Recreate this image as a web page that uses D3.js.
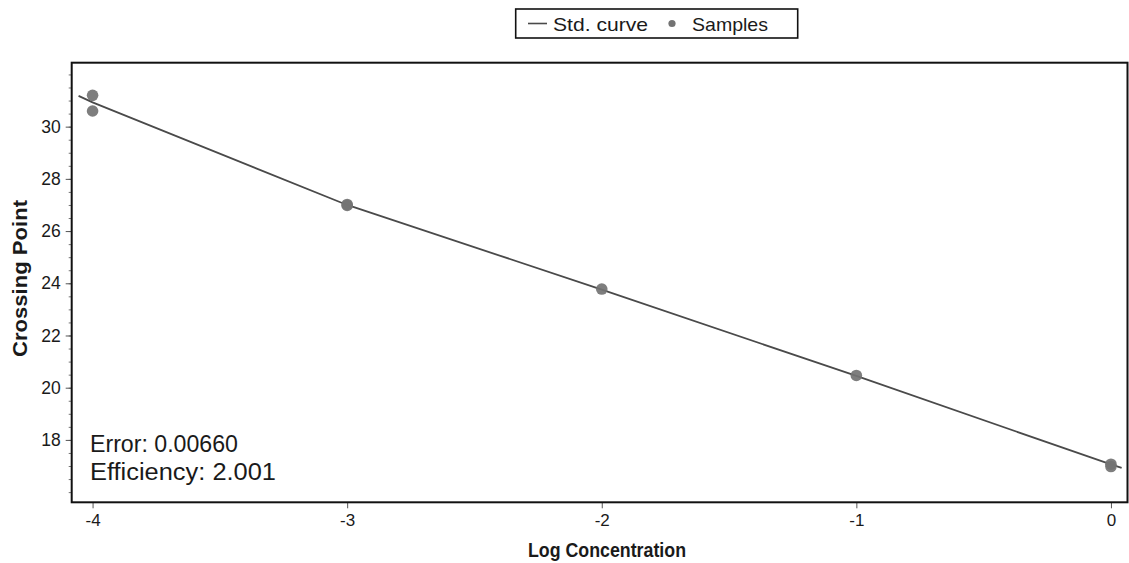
<!DOCTYPE html>
<html>
<head>
<meta charset="utf-8">
<script src="https://cdn.jsdelivr.net/npm/d3@7"></script>
<style>
  html, body { margin: 0; padding: 0; background: #fff; }
  svg { display: block; }
  .tick text { font-family: "Liberation Sans", Arial, sans-serif; }
</style>
</head>
<body>
<svg id="chart" width="1129" height="563"></svg>
<script>
// Standard curve readings (log concentration vs crossing point)
const curveX = [-4.055, -4, -3, -2, -1, 0, 0.042];
const curveY = [31.18, 30.93, 27.0, 23.76, 20.45, 17.06, 16.93];

// Sample measurements
const sampleX = [-4, -4, -3, -3, -2, -1, 0, 0];
const sampleY = [31.2, 30.6, 27.02, 26.98, 23.78, 20.47, 17.07, 16.98];

// Axis ticks
const xTicks = [-4, -3, -2, -1, 0];
const yTicks = [18, 20, 22, 24, 26, 28, 30];
const yMinorTicks = d3.range(16, 32.5, 0.5);

// Fit statistics shown in the plot
const statLines = ["Error: 0.00660", "Efficiency: 2.001"];
const statWidths = [148, 186];
const legendItems = ["Std. curve", "Samples"];

const svg = d3.select("#chart");
const plot = { left: 71.7, right: 1127.5, top: 62.7, bottom: 502.3 };

const x = d3.scaleLinear().domain([-4.082, 0.065]).range([plot.left, plot.right]);
const y = d3.scaleLinear().domain([15.61, 32.45]).range([plot.bottom, plot.top]);

const ink = "#1a1a1a";
const markColor = "#737373";

// Minor ticks
svg.append("g")
  .attr("transform", `translate(${plot.left},0)`)
  .call(d3.axisLeft(y).tickValues(yMinorTicks).tickSize(3).tickFormat(""))
  .call(g => g.select(".domain").remove())
  .call(g => g.selectAll("line").attr("stroke", "#777").attr("stroke-width", 1));

// Y axis
svg.append("g")
  .attr("transform", `translate(${plot.left},0)`)
  .call(d3.axisLeft(y).tickValues(yTicks).tickSize(6).tickPadding(5).tickFormat(d3.format("d")))
  .call(g => g.select(".domain").remove())
  .call(g => g.selectAll("line").attr("stroke", "#555"))
  .call(g => g.selectAll("text").attr("font-size", 17.5).attr("fill", ink));

// X axis
svg.append("g")
  .attr("transform", `translate(0,${plot.bottom})`)
  .call(d3.axisBottom(x).tickValues(xTicks).tickSize(6).tickPadding(6).tickFormat(d3.format("d")))
  .call(g => g.select(".domain").remove())
  .call(g => g.selectAll("line").attr("stroke", "#555"))
  .call(g => g.selectAll("text").attr("font-size", 17).attr("fill", ink)
    .text(d => d < 0 ? "-" + Math.abs(d) : d));

// Plot frame
svg.append("rect")
  .attr("x", plot.left).attr("y", plot.top)
  .attr("width", plot.right - plot.left).attr("height", plot.bottom - plot.top)
  .attr("fill", "none").attr("stroke", "#111").attr("stroke-width", 2);

// Standard curve
const curve = curveX.map((v, i) => [v, curveY[i]]);
svg.append("path")
  .datum(curve)
  .attr("fill", "none")
  .attr("stroke", "#4a4a4a")
  .attr("stroke-width", 1.8)
  .attr("d", d3.line().x(d => x(d[0])).y(d => y(d[1])));

// Sample markers
svg.append("g")
  .selectAll("circle")
  .data(sampleX.map((v, i) => [v, sampleY[i]]))
  .join("circle")
  .attr("cx", d => x(d[0]))
  .attr("cy", d => y(d[1]))
  .attr("r", 5.8)
  .attr("fill", markColor)
  .attr("opacity", 0.92);

// Fit statistics
svg.append("g")
  .selectAll("text")
  .data(statLines)
  .join("text")
  .attr("x", 90)
  .attr("y", (d, i) => 452 + i * 28)
  .attr("font-family", "Liberation Sans, Arial, sans-serif")
  .attr("font-size", 23)
  .attr("textLength", (d, i) => statWidths[i])
  .attr("lengthAdjust", "spacingAndGlyphs")
  .attr("fill", ink)
  .text(d => d);

// Axis titles (condensed bold)
svg.append("text")
  .attr("x", 528)
  .attr("y", 557)
  .attr("font-family", "Liberation Sans, Arial, sans-serif")
  .attr("font-weight", "bold")
  .attr("font-size", 21)
  .attr("textLength", 158)
  .attr("lengthAdjust", "spacingAndGlyphs")
  .attr("fill", ink)
  .text("Log Concentration");

svg.append("text")
  .attr("transform", `translate(27,357) rotate(-90)`)
  .attr("font-family", "Liberation Sans, Arial, sans-serif")
  .attr("font-weight", "bold")
  .attr("font-size", 21)
  .attr("textLength", 157)
  .attr("lengthAdjust", "spacingAndGlyphs")
  .attr("fill", ink)
  .text("Crossing Point");

// Legend
const legend = svg.append("g");
legend.append("rect")
  .attr("x", 515.7).attr("y", 9).attr("width", 282).attr("height", 29)
  .attr("fill", "#fff").attr("stroke", "#111").attr("stroke-width", 1.6);
legend.append("line")
  .attr("x1", 528).attr("x2", 547).attr("y1", 23.5).attr("y2", 23.5)
  .attr("stroke", "#4a4a4a").attr("stroke-width", 1.6);
legend.append("circle")
  .attr("cx", 672).attr("cy", 23.5).attr("r", 3.6)
  .attr("fill", markColor);
legend.selectAll("text")
  .data(legendItems)
  .join("text")
  .attr("x", (d, i) => i === 0 ? 553 : 692)
  .attr("y", 30.5)
  .attr("font-family", "Liberation Sans, Arial, sans-serif")
  .attr("font-size", 19)
  .attr("textLength", (d, i) => i === 0 ? 95 : 76)
  .attr("lengthAdjust", "spacingAndGlyphs")
  .attr("fill", ink)
  .text(d => d);
</script>
</body>
</html>
